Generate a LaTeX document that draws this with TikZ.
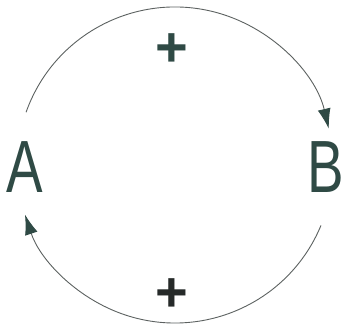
\documentclass[tikz,border=0pt]{standalone}
\usepackage{fontspec}
\newfontfamily\varfont[FakeStretch=0.74]{Liberation Sans}
\setsansfont{Liberation Sans}
\usepackage{tikz}
\usetikzlibrary{arrows.meta}
\definecolor{loopink}{HTML}{2F4A45}
\definecolor{loopline}{HTML}{5C6160}
\definecolor{signdark}{HTML}{262A29}

\begin{document}
\begin{tikzpicture}[
  x=1pt,y=1pt,
  var/.style={text=loopink,font=\varfont\fontsize{74}{74}\selectfont,inner sep=0pt},
  sign/.style={text=loopink,font=\sffamily\bfseries\fontsize{56}{56}\selectfont,inner sep=0pt},
  link/.style={draw=loopline,line width=0.9pt,-{Latex[length=20pt,width=13pt,color=loopink]}}
]
\useasboundingbox (0,0) rectangle (343,328);
\coordinate (hub) at (175,163);
\node[var] (A) at (25,161) {A};
\node[var] (B) at (326,161) {B};
\node[sign] (topsign) at (172,278) {+};
\node[sign,text=signdark] (botsign) at (172,33) {+};
% loop A -> B over the top, B -> A underneath
\coordinate (A-out) at ([shift={(160.5:158)}]hub);
\coordinate (B-out) at ([shift={(-22.5:158)}]hub);
\draw[link] (A-out) arc[start angle=160.5,end angle=13.3,radius=158];
\draw[link] (B-out) arc[start angle=-22.5,end angle=-161.7,radius=158];
\end{tikzpicture}
\end{document}
